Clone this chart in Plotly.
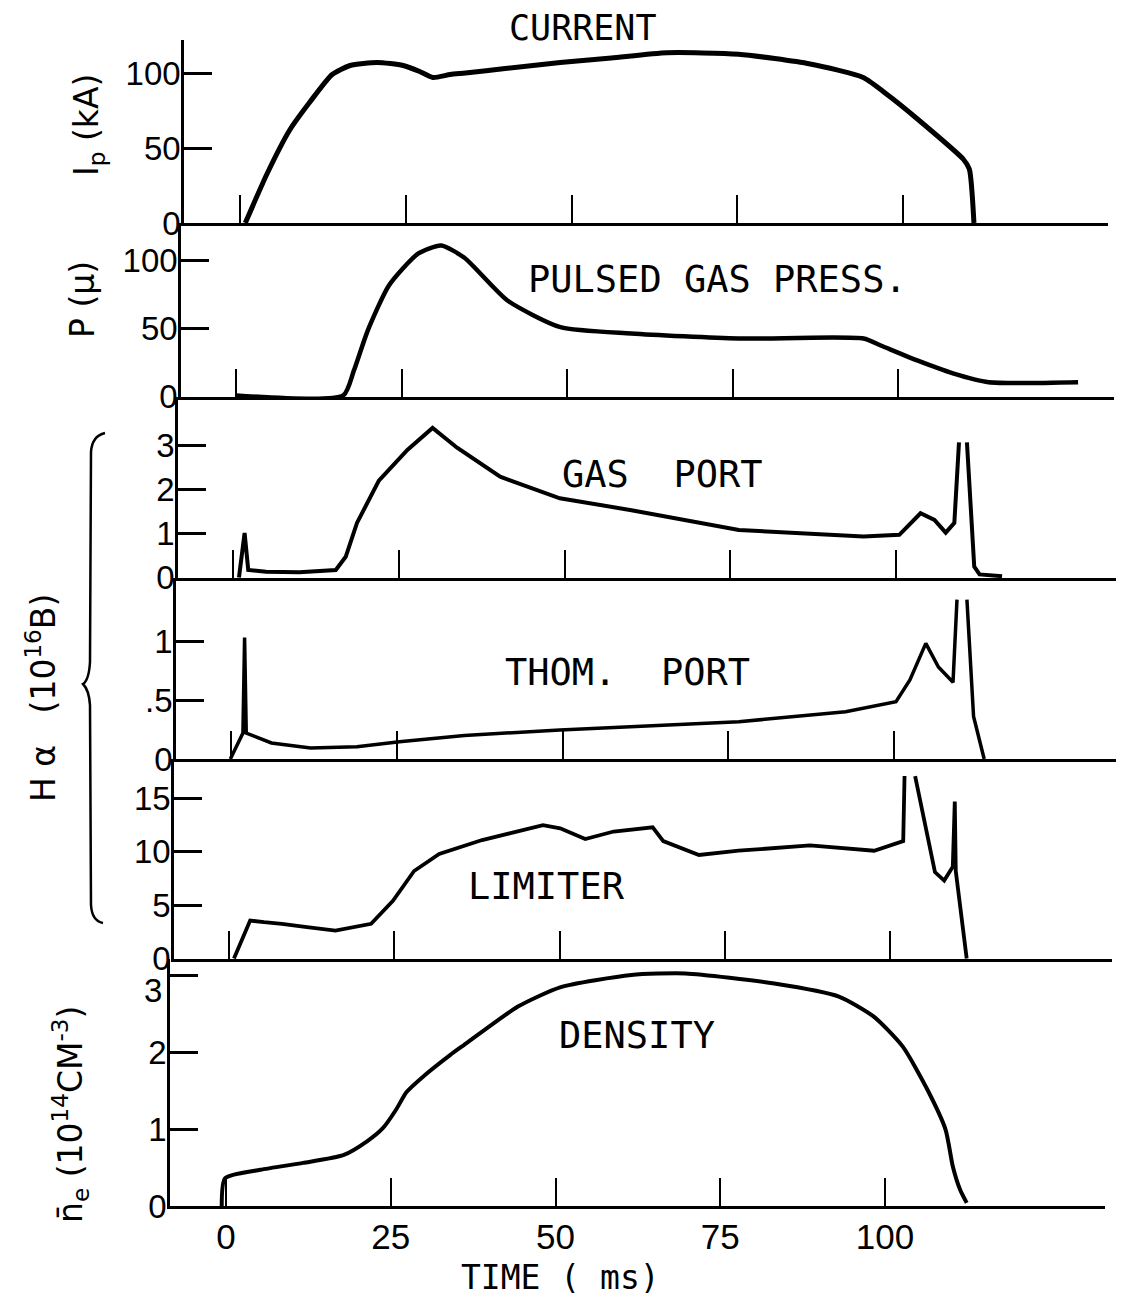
import plotly.graph_objects as go

# ---------------- data (time in ms) ----------------
current_t = [0.8, 4.1, 7.5, 10.6, 13.9, 16.6, 20.7, 24.6, 27.1, 29.1, 31.7, 34.0, 40.0, 48.3, 56.0,
             64.4, 75.2, 86.0, 94.0, 97.8, 102.0, 109.1, 110.0, 110.7]
current_v = [0, 33, 62, 81, 99, 105, 107, 105, 101, 97, 99, 100, 103, 107, 110,
             113.5, 112.5, 106, 97, 85, 70, 42.5, 36, 0]

press_t = [0, 16.2, 17.8, 19.9, 23.1, 27.5, 31.0, 34.5, 41.0, 49.0, 59.7, 75.9, 94.8, 97.4,
           102.9, 108.3, 113.7, 127.2]
press_v = [0.8, 0.8, 19, 48.5, 81.6, 105, 111, 102, 70.6, 51, 46.3, 42.6, 42.6, 37.5,
           26.5, 17, 10.5, 10.5]

gas_t = [0.9, 1.75, 2.3, 5, 10, 15.5, 17.0, 18.7, 22.0, 26.3, 30.1, 33.8, 40.3, 49.3, 60.1,
         76.3, 95.1, 100.5, 103.7, 105.8, 107.5, 108.8, 109.5, None, 110.7, 111.8, 112.6, 116]
gas_v = [0, 1.01, 0.17, 0.13, 0.12, 0.17, 0.47, 1.24, 2.2, 2.9, 3.4, 2.95, 2.29, 1.8, 1.53,
         1.08, 0.93, 0.97, 1.46, 1.31, 1.02, 1.24, 3.07, None, 3.07, 0.25, 0.07, 0.03]

thom_t = [-0.1, 1.0, 1.8, 2.05, 2.3, 6.1, 12.0, 19.0, 25.4, 35.2, 49.6, 76.6, 92.7, 100.3,
          102.4, 104.8, 106.7, 108.9, 109.5, None, 111.0, 112.0, 113.6]
thom_v = [0, 0.136, 0.22, 1.03, 0.22, 0.136, 0.093, 0.103, 0.146, 0.20, 0.246, 0.316, 0.40, 0.486,
          0.67, 0.98, 0.78, 0.65, 1.35, None, 1.35, 0.36, 0]

lim_t = [0.75, 3.2, 5.3, 8.0, 11.8, 16.1, 21.5, 24.8, 28.0, 31.8, 38.3, 47.5, 50.1, 53.9, 58.2,
         64.1, 65.7, 71.1, 77.1, 87.9, 97.6, 102.0, 102.2, None, 103.8, 106.8, 108.2, 109.5,
         109.8, 109.95, 111.6]
lim_v = [0, 3.56, 3.4, 3.25, 2.94, 2.62, 3.25, 5.4, 8.2, 9.8, 11.1, 12.5, 12.2, 11.2, 11.9,
         12.3, 11.0, 9.7, 10.1, 10.6, 10.1, 11.0, 17.1, None, 17.1, 8.1, 7.3, 8.6,
         14.7, 8.2, 0]

dens_t = [-0.65, -0.15, 5.2, 11.7, 17.8, 21.4, 23.8, 25.8, 27.4, 29.9, 34.0, 36.1, 44.3, 50.7,
          61.5, 69.7, 83.2, 93.0, 98.3, 102.7, 106.5, 109.2, 110.3, 111.4, 112.4]
dens_v = [0, 0.36, 0.47, 0.56, 0.66, 0.84, 1.01, 1.25, 1.48, 1.68, 1.96, 2.09, 2.59, 2.84,
          3.0, 3.02, 2.89, 2.72, 2.46, 2.07, 1.5, 0.99, 0.51, 0.21, 0.04]

x_ticks = [0, 25, 50, 75, 100]
x_tick_text = ["0", "25", "50", "75", "100"]

y_ticks = [[0, 50, 100], [0, 50, 100], [0, 1, 2, 3], [0, 0.5, 1], [0, 5, 10, 15], [0, 1, 2, 3]]
y_tick_text = [["0", "50", "100"], ["0", "50", "100"], ["0", "1", "2", "3"], ["0", ".5", "1"],
               ["0", "5", "10", "15"], ["0", "1", "2", ""]]
# top label of the density axis is lettered a little below its tick in the original
dens_top_label = "3"

panel_titles = ["CURRENT", "PULSED GAS PRESS.", "GAS  PORT", "THOM.  PORT", "LIMITER", "DENSITY"]

series = [(current_t, current_v), (press_t, press_v), (gas_t, gas_v),
          (thom_t, thom_v), (lim_t, lim_v), (dens_t, dens_v)]

# ---------------- layout geometry (page pixels) ----------------
PAGE_W, PAGE_H = 1126, 1306
BODY = 8                      # default page margin around the plot div
W, H = PAGE_W - 2 * BODY, PAGE_H - 2 * BODY
GEOM = [
    dict(top=40, bottom=223, left=184, right=1108, x0=240, s=6.63, zero=223, unit=1.5),
    dict(top=223, bottom=397, left=181, right=1114, x0=236, s=6.62, zero=396.5, unit=1.36),
    dict(top=397, bottom=578, left=178, right=1116, x0=233, s=6.63, zero=577.5, unit=44),
    dict(top=578, bottom=759, left=176, right=1116, x0=231, s=6.63, zero=759, unit=118),
    dict(top=759, bottom=959, left=174, right=1112, x0=229, s=6.61, zero=958.5, unit=10.67),
    dict(top=959, bottom=1206, left=170, right=1105, x0=226, s=6.59, zero=1206, unit=77),
]
LINE_W = [5, 4.5, 4, 3.5, 3.8, 4]
SHAPES = ["spline", "spline", "linear", "linear", "linear", "spline"]
TITLE_POS = [(583, 28), (717, 279), (662, 475), (627, 672), (546, 886), (637, 1035)]
TITLE_SIZE = [35, 37, 37, 37, 37, 37]

def fx(px):
    return (px - BODY) / W

def fy(py):
    return 1 - (py - BODY) / H

TICK_FONT = dict(family="Liberation Sans Narrow, Liberation Sans, Arial, sans-serif", size=33, color="black")
TITLE_FONT = dict(family="DejaVu Sans Mono, monospace", size=37, color="black")
LABEL_FONT = dict(family="DejaVu Sans, sans-serif", size=33, color="black")

fig = go.Figure()
layout = dict(width=W, height=H, margin=dict(l=0, r=0, t=0, b=0, autoexpand=False),
              paper_bgcolor="white", plot_bgcolor="rgba(0,0,0,0)", showlegend=False)

for i, (g, (t, v)) in enumerate(zip(GEOM, series)):
    n = "" if i == 0 else str(i + 1)
    fig.add_trace(go.Scatter(
        x=t, y=v, mode="lines", connectgaps=False,
        line=dict(color="black", width=LINE_W[i], shape=SHAPES[i], smoothing=0.6),
        xaxis="x" + n, yaxis="y" + n, hoverinfo="skip"))
    last = (i == len(GEOM) - 1)
    layout["xaxis" + n] = dict(
        domain=[fx(g["left"]), fx(g["right"])],
        range=[(g["left"] - g["x0"]) / g["s"], (g["right"] - g["x0"]) / g["s"]],
        anchor="y" + n, showgrid=False, zeroline=False,
        showline=True, linecolor="black", linewidth=2.5,
        ticks="inside", ticklen=28, tickwidth=2, tickcolor="black",
        tickvals=x_ticks, ticktext=x_tick_text,
        showticklabels=last, tickfont=dict(TICK_FONT, size=35),
        ticklabelstandoff=-2)
    layout["yaxis" + n] = dict(
        domain=[fy(g["bottom"]), fy(g["top"])],
        range=[(g["zero"] - g["bottom"]) / g["unit"], (g["zero"] - g["top"]) / g["unit"]],
        anchor="x" + n, showgrid=False, zeroline=False,
        showline=True, linecolor="black", linewidth=2.5,
        ticks="inside", ticklen=28, tickwidth=2.5, tickcolor="black",
        tickvals=y_ticks[i], ticktext=y_tick_text[i],
        tickfont=TICK_FONT, ticklabelstandoff=-6)

annotations = []
for (px, py), txt, sz in zip(TITLE_POS, panel_titles, TITLE_SIZE):
    annotations.append(dict(x=fx(px), y=fy(py), xref="paper", yref="paper", text=txt,
                            showarrow=False, font=dict(TITLE_FONT, size=sz),
                            xanchor="center", yanchor="middle"))

annotations.append(dict(x=fx(164), y=fy(991), xref="paper", yref="paper", text=dens_top_label,
                        showarrow=False, font=TICK_FONT, xanchor="right", yanchor="middle"))

ylabels = [
    ("I<sub>p</sub> (kA)", 88, 125),
    ("P (μ)", 82, 300),
    ("H α   (10<sup>16</sup>B)", 42, 698),
    ("n̄<sub>e</sub> (10<sup>14</sup>CM<sup>-3</sup>)", 70, 1115),
]
for txt, px, py in ylabels:
    annotations.append(dict(x=fx(px), y=fy(py), xref="paper", yref="paper", text=txt,
                            showarrow=False, font=LABEL_FONT, textangle=-90,
                            xanchor="center", yanchor="middle"))

annotations.append(dict(x=fx(560), y=0, xref="paper", yref="paper", text="TIME ( ms)",
                        showarrow=False, font=dict(TITLE_FONT, size=33), borderpad=0,
                        xanchor="center", yanchor="bottom"))
layout["annotations"] = annotations

# curly brace grouping the three H-alpha panels
brace_pts = [
    ("M", [(105, 433)]), ("Q", [(92, 436), (91, 452)]), ("L", [(90, 662)]),
    ("Q", [(89, 680), (83, 684)]), ("Q", [(89, 690), (90, 705)]), ("L", [(91, 905)]),
    ("Q", [(92, 921), (103, 923)]),
]
path = ""
for cmd, pts in brace_pts:
    path += cmd + " " + " ".join(f"{fx(a):.5f},{fy(b):.5f}" for a, b in pts) + " "
layout["shapes"] = [dict(type="path", path=path.strip(), xref="paper", yref="paper",
                         line=dict(color="black", width=2.5))]

fig.update_layout(**layout)
fig.write_html("out.html")
